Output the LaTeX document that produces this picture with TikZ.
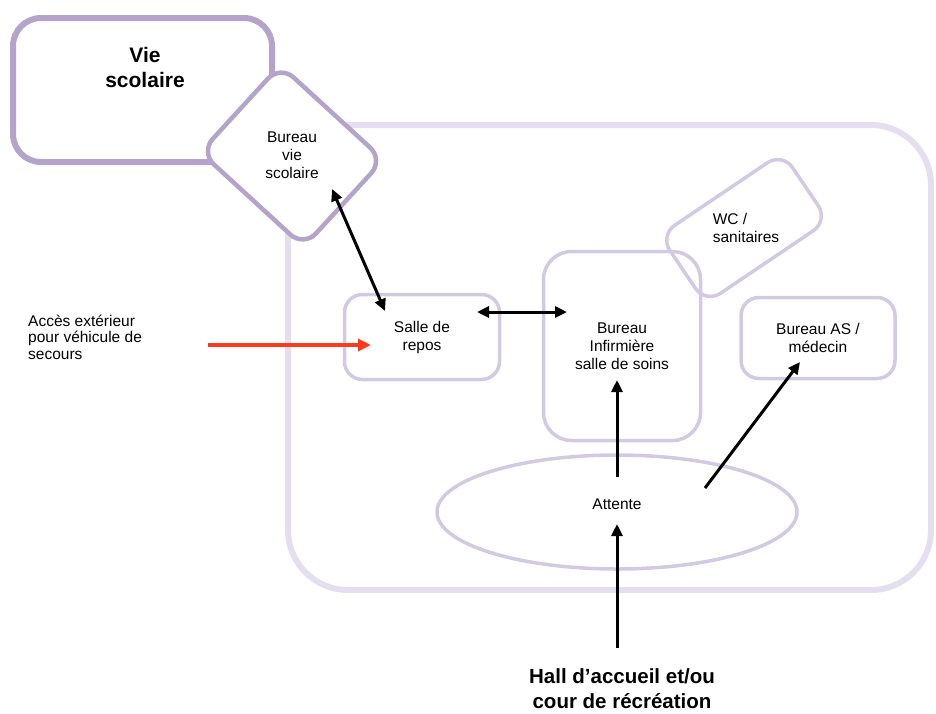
\documentclass[tikz,border=0pt]{standalone}
\usepackage{fontspec}
\setmainfont{Liberation Sans}
\usetikzlibrary{arrows.meta,shapes.geometric}
\definecolor{wallc}{HTML}{E4DEEE}
\definecolor{vsc}{HTML}{B4A4CC}
\definecolor{roomc}{HTML}{D2C9E2}
\definecolor{redc}{HTML}{FF3A1C}
\begin{document}
\begin{tikzpicture}[x=1pt,y=-1pt,
  >={Triangle[length=12pt,width=11pt]},
  small/.style={font=\fontsize{15.5}{18}\selectfont, align=center, inner sep=0pt},
  room/.style={draw=roomc, line width=3.5pt, rounded corners=18pt, small},
  link/.style={line width=3pt, black}]
\useasboundingbox (0,0) rectangle (936,713);

% building outline
\draw[wallc, line width=6pt, rounded corners=60pt] (288,125) rectangle (931,590);

% vie scolaire block
\draw[vsc, line width=6pt, rounded corners=28pt] (13,18) rectangle (272,162);
\node[font=\bfseries\fontsize{21}{25}\selectfont, align=center, inner sep=0pt] (vs) at (145,67) {Vie\\scolaire};

% bureau vie scolaire (tilted)
\node[draw=vsc, line width=4.5pt, fill=white, rounded corners=18pt, rotate=-42.5,
      minimum width=140pt, minimum height=118pt, inner sep=0pt] (bvsbox) at (292,156) {};
\node[small] (bvs) at (292,155) {Bureau\\vie\\scolaire};

% WC (tilted)
\node[draw=roomc, line width=3.5pt, rounded corners=18pt, rotate=34,
      minimum width=148pt, minimum height=82pt, inner sep=0pt] (wcbox) at (744,228) {};
\node[small, align=left] (wc) at (746,228) {WC /\\sanitaires};

% rooms
\node[room, minimum width=155pt, minimum height=85pt] (repos) at (422,337) {Salle de\\repos};
\node[room, rounded corners=28pt, minimum width=157pt, minimum height=189pt] (inf) at (622,346) {Bureau\\Infirmière\\salle de soins};
\node[room, minimum width=154pt, minimum height=81pt] (as) at (818,338) {Bureau AS /\\médecin};

% waiting area
\node[ellipse, draw=roomc, line width=3.5pt, minimum width=360pt, minimum height=114pt] (attbox) at (617,512) {};
\node[small] (att) at (617,504) {Attente};

% outside labels
\node[small, align=left, anchor=west, font=\fontsize{15.5}{16.5}\selectfont] (acces) at (28,337) {Accès extérieur\\pour véhicule de\\secours};
\node[font=\bfseries\fontsize{20.5}{25}\selectfont, align=center, inner sep=0pt] (hall) at (622,689) {Hall d’accueil et/ou\\cour de récréation};

% arrow ends
\coordinate (bvsS) at (332,189);
\coordinate (reposN) at (385,311);
\coordinate (reposE) at (477,312);
\coordinate (infW) at (567,312);
\coordinate (accesE) at (208,345);
\coordinate (reposW) at (371,345);
\coordinate (attN) at (617,477);
\coordinate (infS) at (617,380);
\coordinate (attE) at (705,488);
\coordinate (asS) at (800,362);
\coordinate (hallN) at (617,648);
\coordinate (attS) at (617,524);

% connectors
\draw[link, <->] (bvsS) -- (reposN);
\draw[link, <->] (reposE) -- (infW);
\draw[redc, line width=4pt, -{Triangle[length=13pt,width=12pt]}] (accesE) -- (reposW);
\draw[link, ->] (attN) -- (infS);
\draw[link, ->] (attE) -- (asS);
\draw[link, ->] (hallN) -- (attS);
\end{tikzpicture}
\end{document}
